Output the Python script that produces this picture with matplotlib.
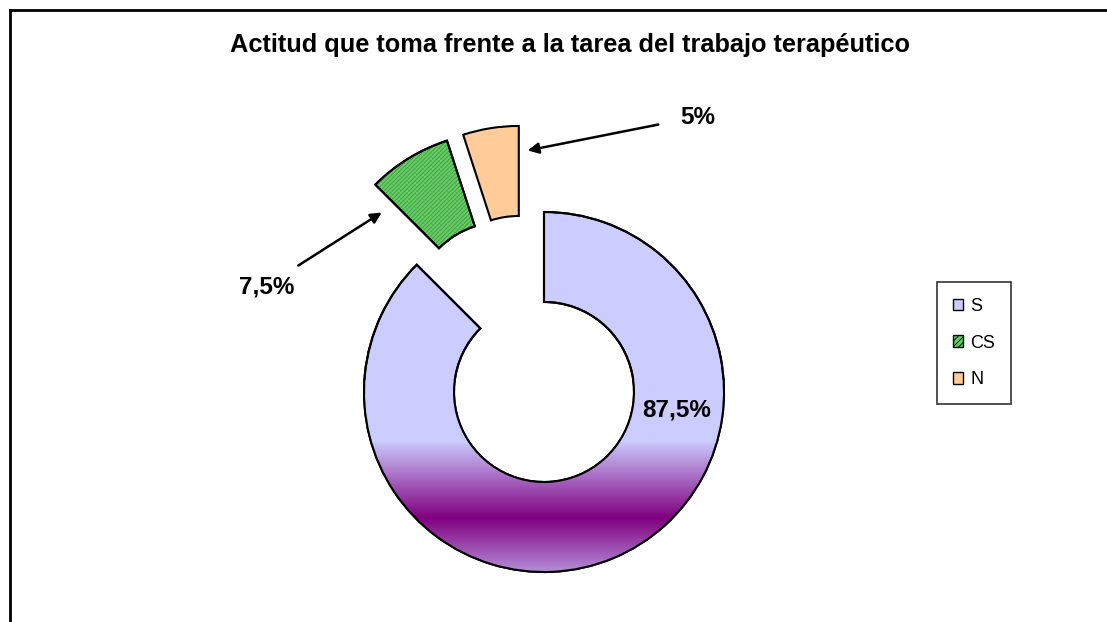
import numpy as np
import matplotlib.pyplot as plt
from matplotlib.patches import Wedge, Patch
from matplotlib.colors import LinearSegmentedColormap

plt.rcParams['font.family'] = ['Liberation Sans', 'DejaVu Sans']
plt.rcParams['hatch.linewidth'] = 0.6

# datos
categorias = ['S', 'CS', 'N']
valores = [87.5, 7.5, 5.0]
etiquetas = ['87,5%', '7,5%', '5%']
colores = ['#CCCCFF', '#66CC66', '#FFCC99']
titulo = 'Actitud que toma frente a la tarea del trabajo terapéutico'

W, H = 1107, 622
cx, cy, r = 544, 392, 180  # centro y radio en pixeles

fig = plt.figure(figsize=(W / 100, H / 100), dpi=100)
ax = fig.add_axes([0, 0, 1, 1])

wedges, _ = ax.pie(valores, explode=[0, 0.5, 0.5], startangle=90, counterclock=False,
                   colors=colores, radius=1,
                   wedgeprops=dict(width=0.5, edgecolor='black', linewidth=1.5))
# desplazamiento como en el original
wedges[1].set_center((-0.23, 0.445))
wedges[2].set_center((-0.14, 0.478))
ax.set_xlim((0 - cx) / r, (W - cx) / r)
ax.set_ylim((cy - H) / r, (cy - 0) / r)
ax.set_aspect('equal')
ax.axis('off')

def py(p):
    return (cy - p) / r

def dx(p):
    return (p - cx) / r

# degradado en S
cmap = LinearSegmentedColormap.from_list('s', ['#CCCCFF', '#800080', '#CCCCFF'])
ys = np.linspace(py(600), py(380), 400)
t = np.clip((ys - py(440)) / (py(596) - py(440)), 0, 1)
img = np.tile(t[:, None], (1, 10))
im = ax.imshow(img, cmap=cmap, vmin=0, vmax=1, origin='lower', aspect='auto',
               extent=[-1.1, 1.1, ys[0], ys[-1]], zorder=1.5, interpolation='bilinear')
im.set_clip_path(wedges[0])
wedges[0].set_zorder(1)
ax.add_patch(Wedge(wedges[0].center, 1, wedges[0].theta1, wedges[0].theta2, width=0.5,
                   facecolor='none', edgecolor='black', linewidth=1.5, zorder=2))

# rayado en CS
w = wedges[1]
ax.add_patch(Wedge(w.center, 1, w.theta1, w.theta2, width=0.5, facecolor='none',
                   edgecolor='#3F9A3F', hatch='////////', linewidth=0, zorder=1.6))
ax.add_patch(Wedge(w.center, 1, w.theta1, w.theta2, width=0.5, facecolor='none',
                   edgecolor='black', linewidth=1.5, zorder=2))

# etiquetas
fs = 17.5
ax.text(dx(677), py(410), etiquetas[0], fontsize=fs, fontweight='bold', ha='center', va='center', zorder=3)
ax.text(dx(267), py(287), etiquetas[1], fontsize=fs, fontweight='bold', ha='center', va='center')
ax.text(dx(698), py(118), etiquetas[2], fontsize=fs, fontweight='bold', ha='center', va='center')
ax.annotate('', xy=(dx(384), py(211)), xytext=(dx(296), py(267)),
            arrowprops=dict(arrowstyle='-|>', color='black', lw=1.8, mutation_scale=16))
ax.annotate('', xy=(dx(525), py(151)), xytext=(dx(661), py(124)),
            arrowprops=dict(arrowstyle='-|>', color='black', lw=1.8, mutation_scale=16))

fig.text(570 / W, 1 - 45 / H, titulo, fontsize=18.3, fontweight='bold', ha='center', va='center')

# leyenda
handles = [Patch(facecolor=colores[0], edgecolor='black'),
           Patch(facecolor=colores[1], edgecolor='black', hatch='//////'),
           Patch(facecolor=colores[2], edgecolor='black')]
leg = fig.legend(handles, categorias, loc='center', bbox_to_anchor=(974 / W, 1 - 343 / H),
                 frameon=True, fancybox=False, edgecolor='black', fontsize=13,
                 handlelength=0.6, handleheight=0.6, handletextpad=0.4,
                 labelspacing=1.1, borderpad=0.85, borderaxespad=0)
leg.get_frame().set_linewidth(1.2)

# marco
fig.add_artist(plt.Line2D([10 / W, 10 / W], [0, 1 - 10 / H], color='black', lw=2))
fig.add_artist(plt.Line2D([10 / W, 1], [1 - 10 / H, 1 - 10 / H], color='black', lw=2))

fig.savefig('out.png', dpi=100)
